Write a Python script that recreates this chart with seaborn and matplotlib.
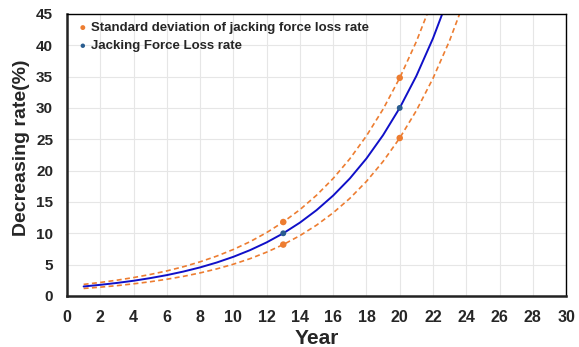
import numpy as np
import pandas as pd
import matplotlib
matplotlib.use("Agg")
import matplotlib.pyplot as plt
import seaborn as sns

# values, one per year
years = [1, 2, 3, 4, 5, 6, 7, 8, 9, 10, 11, 12, 13, 14, 15, 16, 17, 18, 19, 20, 21, 22, 23, 24]
loss_rate = [1.52, 1.78, 2.08, 2.43, 2.85, 3.33, 3.90, 4.56, 5.34, 6.25, 7.31, 8.55,
             10.0, 11.70, 13.69, 16.02, 18.74, 21.93, 25.66, 30.0, 35.1, 41.1, 48.1, 56.3]
upper_sd = [1.85, 2.16, 2.52, 2.94, 3.43, 4.00, 4.67, 5.45, 6.36, 7.42, 8.66, 10.11,
            11.8, 13.77, 16.07, 18.75, 21.88, 25.54, 29.80, 34.78, 40.59, 47.37, 55.3, 64.5]
lower_sd = [1.20, 1.41, 1.65, 1.94, 2.27, 2.67, 3.13, 3.68, 4.32, 5.07, 5.95, 6.99,
            8.2, 9.63, 11.30, 13.27, 15.57, 18.28, 21.46, 25.19, 29.57, 34.72, 40.75, 47.84]

# measured points
pt_years = [13, 20]
pt_loss = [10.0, 30.0]
pt_sd_years = [13, 13, 20, 20]
pt_sd = [11.8, 8.2, 34.8, 25.2]

curves = pd.DataFrame({"Year": years, "loss": loss_rate, "upper": upper_sd, "lower": lower_sd})

sns.set_style("white")
plt.rcParams['font.family'] = ['Liberation Sans', 'DejaVu Sans']

orange = "#ED7D31"
fig = plt.figure(figsize=(5.79, 3.47), dpi=100)
ax = fig.add_axes([0.1157, 0.147, 0.862, 0.813])

sns.lineplot(data=curves, x="Year", y="upper", color=orange, lw=1.2, ls=(0, (3, 2)), ax=ax)
sns.lineplot(data=curves, x="Year", y="lower", color=orange, lw=1.2, ls=(0, (3, 2)), ax=ax)
sns.lineplot(data=curves, x="Year", y="loss", color="#1010C8", lw=1.4, ax=ax)

sns.scatterplot(x=pt_sd_years, y=pt_sd, color=orange, s=22, edgecolor="none", zorder=5,
                label="Standard deviation of jacking force loss rate", ax=ax)
sns.scatterplot(x=pt_years, y=pt_loss, color="#2A5D8F", s=18, edgecolor="none", zorder=6,
                label="Jacking Force Loss rate", ax=ax)

ax.set_xlim(0, 30)
ax.set_ylim(0, 45)
ax.set_xticks(range(0, 31, 2))
ax.set_yticks(range(0, 46, 5))
ax.grid(True, color="#E6E6E6", lw=0.8)
ax.set_axisbelow(True)
ax.tick_params(axis="y", length=0, labelsize=11, pad=10)
ax.tick_params(axis="x", length=0, labelsize=11.5, pad=10)
for lab in ax.get_xticklabels() + ax.get_yticklabels():
    lab.set_fontweight("bold")

ax.set_xlabel("Year", fontsize=15, fontweight="bold", labelpad=3)
ax.set_ylabel("Decreasing rate(%)", fontsize=14, fontweight="bold")
ax.yaxis.set_label_coords(-0.074, 0.525)

for side in ["top", "right"]:
    ax.spines[side].set_visible(True)
    ax.spines[side].set_color("black")
    ax.spines[side].set_linewidth(1.0)
for side in ["left", "bottom"]:
    ax.spines[side].set_color("#222222")
    ax.spines[side].set_linewidth(1.8)

leg = ax.legend(loc="upper left", frameon=False, handletextpad=0.0, borderaxespad=0.2,
                handlelength=1.2, labelspacing=0.45, markerscale=0.75,
                prop={"weight": "bold", "size": 9.5})

fig.savefig("out.png", dpi=100)
